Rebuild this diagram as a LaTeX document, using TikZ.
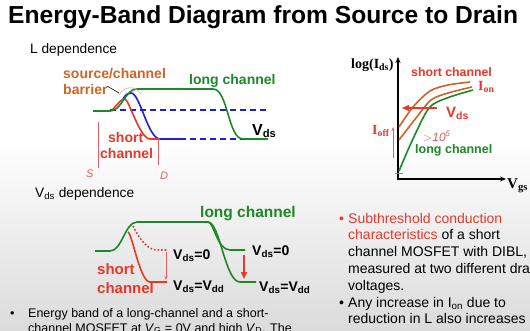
\documentclass[tikz,border=0pt]{standalone}
\usepackage{fontspec}
\setmainfont{Liberation Sans}
\newfontfamily\timesfont{Liberation Serif}
\usetikzlibrary{arrows.meta}

\definecolor{bandgreen}{RGB}{30,135,40}
\definecolor{bandred}{RGB}{232,55,40}
\definecolor{bandorange}{RGB}{205,100,40}
\definecolor{bandblue}{RGB}{30,30,225}
\definecolor{penred}{RGB}{225,95,95}

\newcommand{\fsz}[1]{\fontsize{#1}{#1}\selectfont}
\newcommand{\subs}[1]{\textsubscript{#1}}

\begin{document}
\begin{tikzpicture}[x=1pt,y=-1pt,>={Stealth[length=6pt,width=5pt]},
  txt/.style={inner sep=0pt,anchor=base west},
  band/.style={line width=1.6pt},
  level/.style={bandblue,line width=1.2pt,dash pattern=on 6pt off 4pt},
  pen/.style={penred,line width=0.6pt},
  redarrow/.style={bandred,line width=1.4pt,-{Triangle[length=7pt,width=6pt]}}]
  % background
  \fill[white] (0,0) rectangle (530,330);
  \shade[top color=white,bottom color=black!14] (0,140) rectangle (530,330);
  \clip (0,0) rectangle (530,330);
  \useasboundingbox (0,0) rectangle (530,330);

  \node[txt,font=\fsz{24.6}\bfseries] (title) at (8,23) {Energy-Band Diagram from Source to Drain};

  % L dependence
  \node[txt,font=\fsz{13.7}] (ldep) at (30,53) {L dependence};
  \node[txt,font=\fsz{14}\bfseries,text=bandorange] (srcch) at (63,78) {source/channel};
  \node[txt,font=\fsz{14}\bfseries,text=bandorange] (barrier) at (63,94) {barrier};
  \node[txt,font=\fsz{14}\bfseries,text=bandgreen] (longa) at (189,84) {long channel};
  \node[txt,font=\fsz{16}\bfseries] (vdsa) at (252,135) {V\subs{ds}};
  \node[txt,font=\fsz{14}\bfseries,text=bandred] (shorta) at (108,142) {short};
  \node[txt,font=\fsz{14}\bfseries,text=bandred] (chana) at (100,158) {channel};
  \draw[level] (110,110) -- (267,110);
  \draw[level] (180,139) -- (268,139);
  \draw[band,bandblue] (123,99) .. controls (126,94) and (128,93) .. (131,93)
    .. controls (140,93) and (148,139) .. (160,139) -- (180,139);
  \draw[band,bandred] (113,109) .. controls (118,104) and (121,99) .. (125,99)
    .. controls (129,100) and (140,139) .. (150,139) -- (160,139);
  \draw[band,bandgreen] (93,111) -- (110,111) .. controls (122,111) and (125,89) .. (137,89)
    -- (213,89) .. controls (228,89) and (228,139) .. (243,139) -- (268,139);
  \coordinate (ptr0) at (107,86);
  \coordinate (ptr1) at (119,93);
  \draw[line width=0.6pt] (ptr0) -- (ptr1);
  % pen marks
  \draw[pen,penred!60] (119,95) .. controls (124,86) and (135,85) .. (141,94);
  \draw[pen] (98,122) -- (98,168);
  \draw[pen] (158,140) -- (158,165);
  \node[txt,font=\fsz{11}\itshape,text=penred] (smark) at (86,177) {S};
  \node[txt,font=\fsz{11}\itshape,text=penred] (dmark) at (160,179) {D};

  % Vds dependence
  \node[txt,font=\fsz{13.7}] (vdep) at (35,197) {V\subs{ds} dependence};
  \node[txt,font=\fsz{15.5}\bfseries,text=bandgreen] (longb) at (200,217.5) {long channel};
  \node[txt,font=\fsz{15}\bfseries,text=bandred] (shortb) at (97,274) {short};
  \node[txt,font=\fsz{15}\bfseries,text=bandred] (chanb) at (97,293) {channel};
  \draw[band,bandred,dotted] (133,226) .. controls (140,240) and (148,250) .. (157,250) -- (167,250);
  \draw[band,bandred] (128,232) .. controls (132,233) and (140,282) .. (150,282) -- (167,282);
  \draw[band,bandgreen] (95,251) -- (110,251) .. controls (122,251) and (125,222) .. (137,222)
    -- (208,222) .. controls (214,222) and (217,250) .. (230,250) -- (245,250);
  \draw[band,bandgreen] (208,222) .. controls (220,222) and (225,282) .. (240,282) -- (256,282);
  \coordinate (pa0) at (166,252);
  \coordinate (pa1) at (166,280);
  \draw[pen,-{Stealth[length=4pt,width=3pt]}] (pa0) -- (pa1);
  \coordinate (va0) at (244,255);
  \coordinate (va1) at (244,279);
  \draw[redarrow] (va0) -- (va1);
  \node[txt,font=\fsz{14}\bfseries] (vz1) at (173,259.5) {V\subs{ds}=0};
  \node[txt,font=\fsz{14}\bfseries] (vd1) at (173,290.5) {V\subs{ds}=V\subs{dd}};
  \node[txt,font=\fsz{14}\bfseries] (vz2) at (252,255.5) {V\subs{ds}=0};
  \node[txt,font=\fsz{14}\bfseries] (vd2) at (259,291.5) {V\subs{ds}=V\subs{dd}};

  % bottom text left
  \node[txt,font=\fsz{12.5}] (bul1) at (10,317.5) {\textbullet};
  \node[txt,font=\fsz{12.5}] (para1) at (28,317.5) {Energy band of a long-channel and a short-};
  \node[txt,font=\fsz{12.5}] (para2) at (28,332) {channel MOSFET at \textit{V}\subs{G} = 0V and high \textit{V}\subs{D}. The};

  % right panel: log(Ids) vs Vgs
  \coordinate (origin) at (398,179);
  \coordinate (ytop) at (398,57);
  \coordinate (xend) at (506,179);
  \draw[line width=1.3pt,<->] (ytop) -- (origin) -- (xend);
  \node[txt,font=\fsz{14}\timesfont\bfseries] (ylab) at (351,68) {log(I\subs{ds})};
  \node[txt,font=\fsz{15}\timesfont\bfseries] (xlab) at (507,188) {V\subs{gs}};
  \node[txt,font=\fsz{12.3}\bfseries,text=bandred] (shortc) at (411,76.5) {short channel};
  \node[txt,font=\fsz{14}\timesfont\bfseries,text=bandred] (ion) at (478,90.5) {I\subs{on}};
  \node[txt,font=\fsz{12.5}\bfseries,text=bandgreen] (longc) at (415,153) {long channel};
  \node[txt,font=\fsz{14}\timesfont\bfseries,text=bandred] (ioff) at (372,134) {I\subs{off}};
  \draw[band,bandorange] plot[smooth] coordinates {(399,127) (413,107) (430,91) (448,85) (470,82)};
  \draw[band,bandorange] plot[smooth] coordinates {(399,140) (416,118) (431,100) (448,93) (472,87)};
  \draw[band,bandgreen] plot[smooth] coordinates {(399,171) (412,141) (429,108) (447,98) (473,90)};
  \coordinate (vr0) at (437,108);
  \coordinate (vr1) at (402,108);
  \draw[redarrow] (vr0) -- (vr1);
  \node[txt,font=\fsz{15}\bfseries,text=bandred] (vdsr) at (446,117) {V\subs{ds}};
  % pen marks
  \coordinate (pr0) at (393,158);
  \coordinate (pr1) at (393,127);
  \draw[pen,-{Stealth[length=4pt,width=3pt]}] (pr0) -- (pr1);
  \draw[pen,line width=1pt] (395,173) -- (403,173);
  \node[txt,font=\fsz{12}\itshape,text=penred] (gt5) at (423,141) {$>$10\textsuperscript{5}};

  % bottom text right
  \node[txt,font=\fsz{14},text=bandred] (bul2) at (339,223) {\textbullet};
  \node[txt,font=\fsz{14},text=bandred] (r1) at (348,223) {Subthreshold conduction};
  \node[txt,font=\fsz{14}] (r2) at (348,239.5) {\textcolor{bandred}{characteristics} of a short};
  \node[txt,font=\fsz{14}] (r3) at (348,256) {channel MOSFET with DIBL,};
  \node[txt,font=\fsz{14}] (r4) at (348,273) {measured at two different drain};
  \node[txt,font=\fsz{14}] (r5) at (348,290) {voltages.};
  \node[txt,font=\fsz{14}] (bul3) at (339,307) {\textbullet};
  \node[txt,font=\fsz{14}] (r6) at (348,307) {Any increase in I\subs{on} due to};
  \node[txt,font=\fsz{14}] (r7) at (348,323.5) {reduction in L also increases};
\end{tikzpicture}
\end{document}
